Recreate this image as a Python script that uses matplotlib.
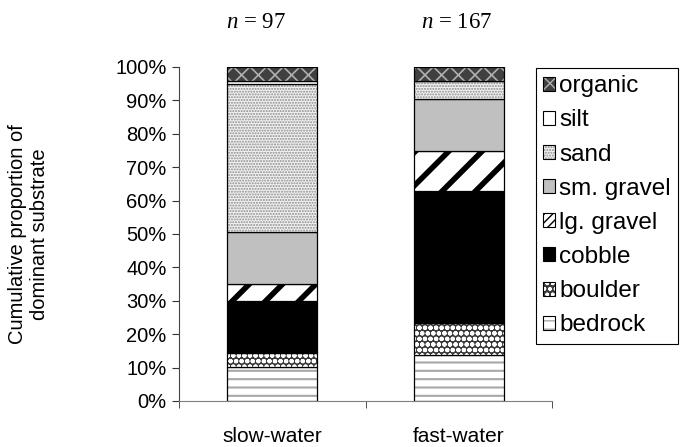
import numpy as np
import matplotlib
matplotlib.use("Agg")
import matplotlib.pyplot as plt
import matplotlib.transforms as mtransforms
from matplotlib.patches import Patch
from matplotlib.legend_handler import HandlerTuple
import matplotlib.ticker as mticker

# data: percent of samples by dominant substrate (bottom to top of each bar)
habitats = ["slow-water", "fast-water"]
n_samples = [97, 167]
substrates = ["bedrock", "boulder", "cobble", "lg. gravel",
              "sm. gravel", "sand", "silt", "organic"]
slow_pct = [10.3, 4.1, 15.5, 5.2, 15.5, 44.3, 1.0, 4.1]
fast_pct = [13.8, 9.6, 39.5, 12.0, 15.6, 5.4, 0.0, 4.1]

# fill styles: (face colour, hatch, hatch colour, hatch linewidth)
styles = {
    "bedrock": ("white", "--", "#a8a8a8", 1.5),
    "boulder": ("#3a3a3a", "ooo", "white", 1.5),
    "cobble": ("black", None, "black", 1.0),
    "lg. gravel": ("white", "/", "black", 4.0),
    "sm. gravel": ("#c0c0c0", None, "#c0c0c0", 1.0),
    "sand": ("#f2f2f2", "......", "#8c8c8c", 1.0),
    "silt": ("white", None, "white", 1.0),
    "organic": ("#404040", "xx", "#b0b0b0", 1.2),
}
# the legend boxes are tiny, so the wide stripes need a denser pattern there
legend_hatch = {"lg. gravel": ("////", 1.8)}

plt.rcParams["font.family"] = "Liberation Sans"
plt.rcParams["mathtext.fontset"] = "custom"
plt.rcParams["mathtext.rm"] = "Liberation Serif"
plt.rcParams["mathtext.it"] = "Liberation Serif:italic"


def styled(patch, name, in_legend=False):
    face, hatch, hcolor, hlw = styles[name]
    if in_legend and name in legend_hatch:
        hatch, hlw = legend_hatch[name]
    patch.set_facecolor(face)
    patch.set_edgecolor(hcolor)
    patch.set_linewidth(0)
    if hatch:
        patch.set_hatch(hatch)
        if hasattr(patch, "set_hatch_linewidth"):
            patch.set_hatch_linewidth(hlw)


fig = plt.figure(figsize=(6.88, 4.47), dpi=100)
ax = fig.add_axes([179 / 688, 1 - 401 / 447, (552 - 179) / 688, (401 - 67) / 447])

x = np.arange(len(habitats))
data = np.array([slow_pct, fast_pct]) / 100.0
width = 0.48
bottom = np.zeros(len(habitats))

for k, name in enumerate(substrates):
    vals = data[:, k]
    bars = ax.bar(x, vals, width, bottom=bottom)
    for b in bars:
        styled(b, name)
    # black outline drawn on top so hatch colour stays separate
    ax.bar(x, vals, width, bottom=bottom, fill=False,
           edgecolor="black", linewidth=0.9)
    bottom += vals

ax.set_xlim(-0.5, 1.5)
ax.set_ylim(0, 1)
ax.yaxis.set_major_locator(mticker.MultipleLocator(0.1))
ax.yaxis.set_major_formatter(mticker.PercentFormatter(1.0, decimals=0))

ax.set_xticks(x)
ax.set_xticklabels(habitats)
ax.set_xticks([-0.5, 0.5, 1.5], minor=True)
ax.tick_params(axis="x", which="major", length=0, pad=19, labelsize=15)
ax.tick_params(axis="x", which="minor", length=5, direction="out",
               color="#333333")
ax.tick_params(axis="y", length=5, direction="out", pad=4,
               labelsize=14.5, color="#333333")

for side in ["top", "right"]:
    ax.spines[side].set_visible(False)
ax.spines["left"].set_color("#444444")
ax.spines["bottom"].set_color("#7f7f7f")

# sample sizes above the bars (the left one sits a little left of centre)
n_shift = [-0.085, -0.01]
n_trans = mtransforms.blended_transform_factory(ax.transData, fig.transFigure)
for xi, dx, n in zip(x, n_shift, n_samples):
    ax.text(xi + dx, 1 - 22 / 447, f"$n$ = {n}", transform=n_trans,
            ha="center", va="center", fontsize=16.5, family="Liberation Serif")

fig.text(29 / 688, 1 - 234 / 447,
         "Cumulative proportion of\ndominant substrate",
         rotation=90, ha="center", va="center", fontsize=14.5,
         multialignment="center")

handles = []
for name in substrates[::-1]:
    p = Patch()
    styled(p, name, in_legend=True)
    outline = Patch(fill=False, edgecolor="black", linewidth=0.8)
    handles.append((p, outline))

leg = fig.legend(handles, substrates[::-1],
                 handler_map={tuple: HandlerTuple(ndivide=1, pad=0)},
                 loc="upper left", bbox_to_anchor=(536 / 688, 1 - 68 / 447),
                 frameon=True, fancybox=False, framealpha=1,
                 edgecolor="black", fontsize=17.5, handlelength=0.5,
                 handleheight=0.5, handletextpad=0.15,
                 labelspacing=0.5, borderpad=0.3, borderaxespad=0)
leg.get_frame().set_linewidth(0.8)

fig.savefig("out.png", dpi=100)
